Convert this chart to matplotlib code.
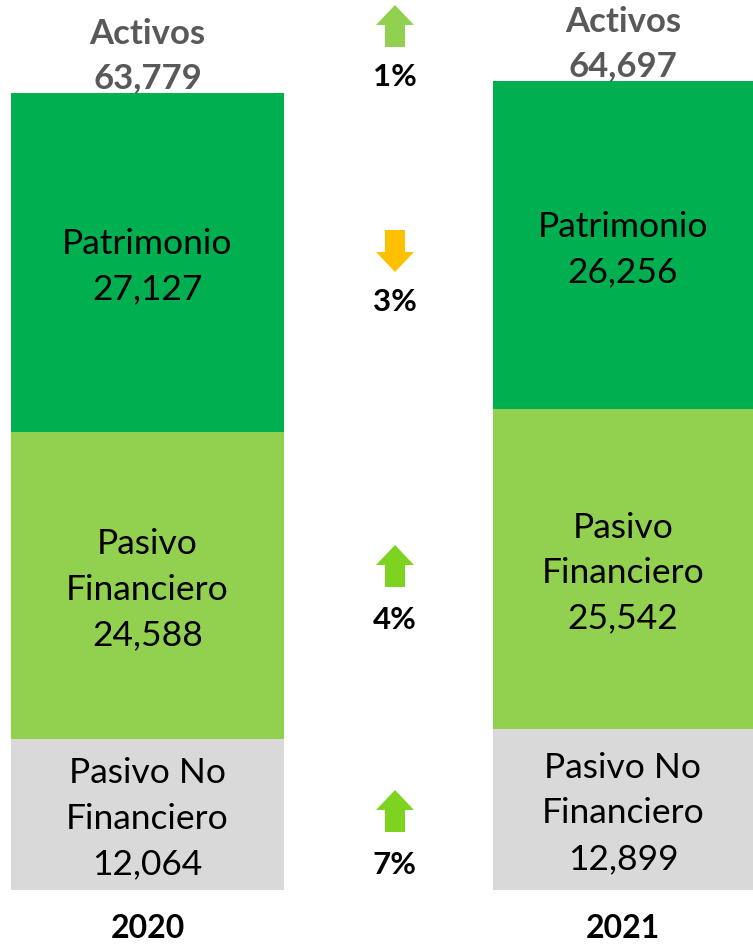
import matplotlib
matplotlib.use("Agg")
import matplotlib.pyplot as plt
from matplotlib.patches import Polygon

years = ["2020", "2021"]
segments = ["Pasivo No\nFinanciero", "Pasivo\nFinanciero", "Patrimonio"]
values = {
    "2020": [12064, 24588, 27127],
    "2021": [12899, 25542, 26256],
}
totals = [63779, 64697]
changes = [7, 4, -3, 1]  # NF, PF, Patrimonio, Activos
colors = ["#D9D9D9", "#92D050", "#00B050"]
arrow_colors = ["#7ED321", "#7ED321", "#FFC000", "#92D050"]

W, H = 753, 944
fig = plt.figure(figsize=(W / 100, H / 100), dpi=100)
plt.rcParams['font.family'] = ['Lato', 'DejaVu Sans']

PXK = 12.5  # pixels per 1000
ax = fig.add_axes([0, (H - 890) / H, 1, 890 / H])
ax.set_xlim(0, W)
ax.set_ylim(0, 890 / PXK * 1000)
ax.axis("off")

bar_left = [11, 493]
bar_width = [273, 260]
centers = [l + w / 2 for l, w in zip(bar_left, bar_width)]

for i, y in enumerate(years):
    bottom = 0
    for j, v in enumerate(values[y]):
        ax.bar(centers[i], v, width=bar_width[i], bottom=bottom, color=colors[j],
               edgecolor="none")
        ax.text(centers[i], bottom + v / 2 - 4 / PXK * 1000, f"{segments[j]}\n{v:,}",
                ha="center", va="center", fontsize=25.5, color="#000000",
                linespacing=1.52)
        bottom += v
    ax.text(centers[i], totals[i] + 37 / PXK * 1000, f"Activos\n{totals[i]:,}",
            ha="center", va="center", fontsize=25, fontweight="bold",
            color="#595959", linespacing=1.45)
    fig.text(centers[i] / W, 1 - 928 / H, y, ha="center", va="center",
             fontsize=23, fontweight="bold", color="#000000")


def px(x, ytop):
    return (x / W, 1 - ytop / H)


def arrow(cx, ytop, up, color, h=42, hw=38, sw=20, hh=20):
    if up:
        pts = [(cx, ytop), (cx + hw / 2, ytop + hh), (cx + sw / 2, ytop + hh),
               (cx + sw / 2, ytop + h), (cx - sw / 2, ytop + h),
               (cx - sw / 2, ytop + hh), (cx - hw / 2, ytop + hh)]
    else:
        yb = ytop + h
        pts = [(cx, yb), (cx + hw / 2, yb - hh), (cx + sw / 2, yb - hh),
               (cx + sw / 2, ytop), (cx - sw / 2, ytop),
               (cx - sw / 2, yb - hh), (cx - hw / 2, yb - hh)]
    fig.patches.append(Polygon([px(*p) for p in pts], closed=True,
                               transform=fig.transFigure, facecolor=color,
                               edgecolor="none"))


mid_x = 395
arrow_tops = [790, 545, 230, 5]
label_y = [865, 620, 302, 77]
for c, at, ly, col in zip(changes, arrow_tops, label_y, arrow_colors):
    arrow(mid_x, at, c > 0, col)
    fig.text(mid_x / W, 1 - ly / H, f"{abs(c)}%", ha="center", va="center",
             fontsize=22.5, fontweight="bold", color="#000000")

fig.savefig("out.png", dpi=100)
